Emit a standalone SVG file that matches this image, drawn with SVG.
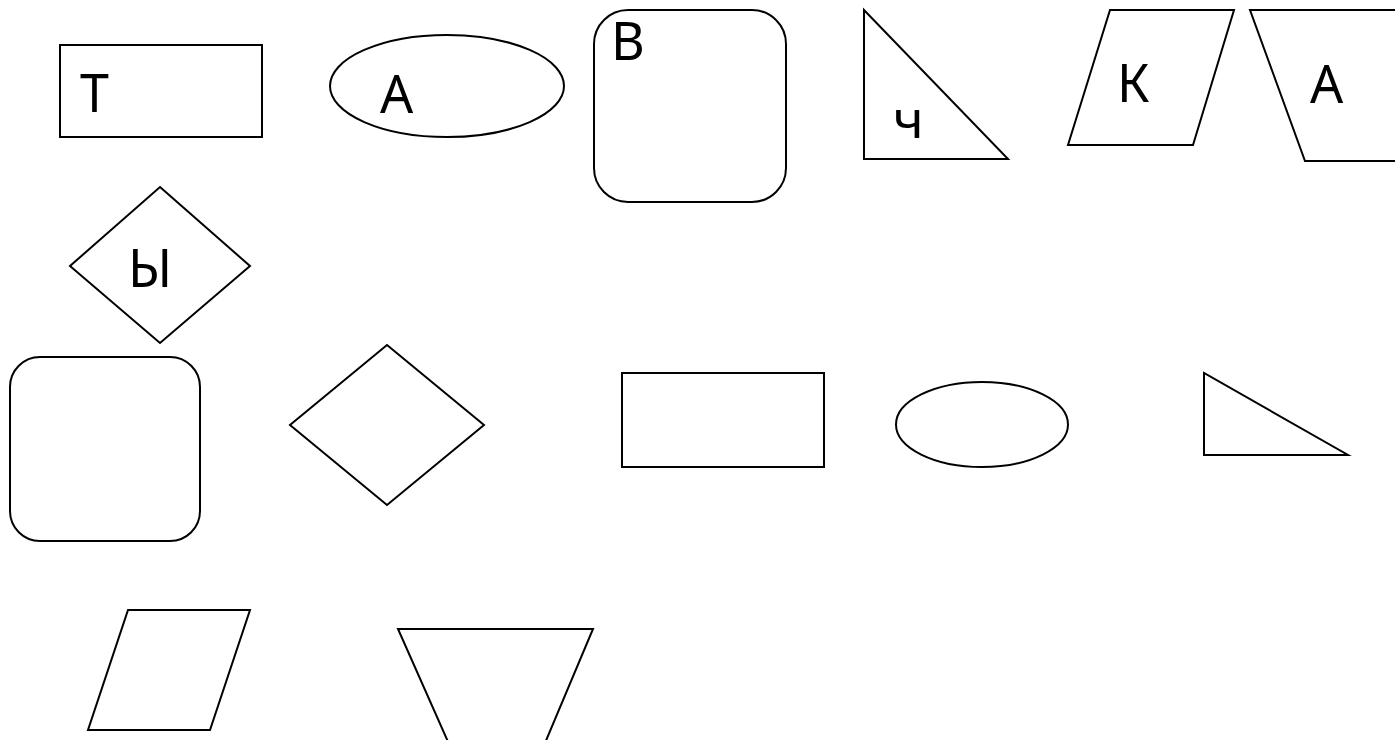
<svg xmlns="http://www.w3.org/2000/svg" width="1395" height="740" viewBox="0 0 1395 740">
<style>
.s{fill:#fff;stroke:#000;stroke-width:2;stroke-linejoin:miter}
.t{font-family:"Noto Sans","Liberation Sans",sans-serif;font-size:52px;fill:#000}
</style>
<rect width="1395" height="740" fill="#fff"/>
<g id="n-rect-T"><rect class="s" x="60" y="45" width="202" height="92"/><text class="t" x="80" y="112">Т</text></g>
<g id="n-ellipse-A"><ellipse class="s" cx="447" cy="86" rx="117" ry="51"/><text class="t" x="380" y="113">А</text></g>
<g id="n-round-B"><rect class="s" x="594" y="10" width="192" height="192" rx="34" ry="34"/><text class="t" x="611" y="60">В</text></g>
<g id="n-tri-ch"><polygon class="s" points="864,10 864,159 1008,159"/><text class="t" x="893" y="138">ч</text></g>
<g id="n-para-K"><polygon class="s" points="1110,10 1234,10 1193,145 1068,145"/><text class="t" x="1117" y="102">К</text></g>
<g id="n-trap-A"><polygon class="s" points="1250,10 1420,10 1420,161 1305,161"/><text class="t" x="1310" y="103">А</text></g>
<g id="n-diamond-Y"><polygon class="s" points="160,187 250,266 160,343 70,266"/><text class="t" x="128" y="287">Ы</text></g>
<g id="n-round-2"><rect class="s" x="10" y="357" width="190" height="184" rx="30" ry="30"/></g>
<g id="n-diamond-2"><polygon class="s" points="387,345 484,425 387,505 290,425"/></g>
<g id="n-rect-2"><rect class="s" x="622" y="373" width="202" height="94"/></g>
<g id="n-ellipse-2"><ellipse class="s" cx="982" cy="424.5" rx="86" ry="42.5"/></g>
<g id="n-tri-2"><polygon class="s" points="1204,373 1204,455 1348,455"/></g>
<g id="n-para-2"><polygon class="s" points="128,610 250,610 210,730 88,730"/></g>
<g id="n-trap-2"><polygon class="s" points="398,629 593,629 537,762 457,762"/></g>
<g id="connectors"></g>
</svg>
